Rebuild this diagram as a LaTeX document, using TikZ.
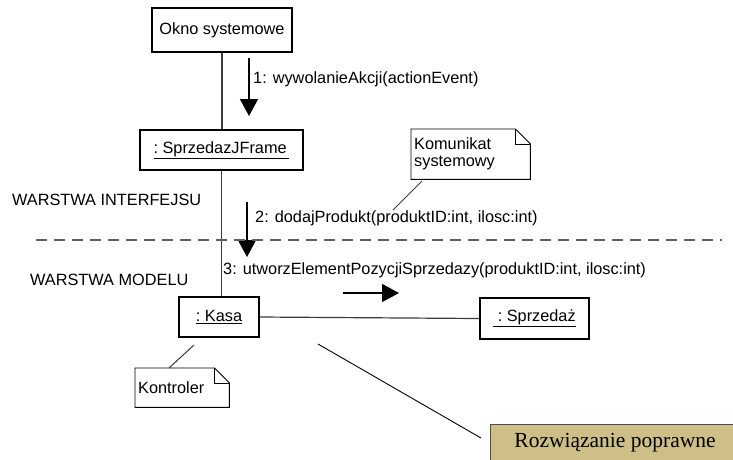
\documentclass[tikz,border=0pt]{standalone}
\usepackage{fontspec}
\setmainfont{Liberation Sans}
\newfontfamily\serifrm{Liberation Serif}
\usetikzlibrary{arrows.meta,calc}

\definecolor{linegray}{RGB}{60,60,60}
\definecolor{dashgray}{RGB}{95,95,95}
\definecolor{tanfill}{RGB}{206,190,136}

% UML note outline with a folded corner
\newcommand\umlnote[1]{%
  \draw[notepen] (#1.north west) -- ($(#1.north east)+(-15,0)$) -- ($(#1.north east)+(0,15)$)
     -- (#1.south east) -- (#1.south west) -- cycle;
  \draw[notepen] ($(#1.north east)+(-15,0)$) |- ($(#1.north east)+(0,15)$);}

\begin{document}
\begin{tikzpicture}[x=1pt,y=-1pt,
  txt/.style={font=\fontsize{16.3}{19}\selectfont, inner sep=0pt},
  objbox/.style={draw, line width=2pt, inner sep=0pt, font=\fontsize{16.3}{19}\selectfont},
  notetext/.style={inner sep=3pt, align=left, font=\fontsize{16.3}{19}\selectfont},
  notepen/.style={line width=0.9pt, draw=black},
  link/.style={draw=linegray, line width=1.2pt},
  msg/.style={line width=1.4pt, -{Triangle[width=18pt,length=17pt]}},
  layer/.style={draw=dashgray, line width=1.7pt, dash pattern=on 11pt off 7pt},
  verdict/.style={draw=black!70, line width=0.8pt, fill=tanfill, inner sep=0pt,
    font=\serifrm\fontsize{21.5}{24}\selectfont}]
\useasboundingbox (0,0) rectangle (733,459);
\fill[white] (0,0) rectangle (733,459);

% objects
\node[objbox, minimum width=140pt, minimum height=44pt] (okno) at (222,30) {Okno systemowe};
\node[objbox, minimum width=163pt, minimum height=40pt] (jframe) at (221.5,150) {\underline{:\ SprzedazJFrame\,}};
\node[objbox, minimum width=80pt, minimum height=40pt] (kasa) at (219,317) {\underline{:\ Kasa}};
\node[objbox, minimum width=109pt, minimum height=41pt] (sprz) at (534.5,318.5) {\underline{\ :\ Sprzedaż}};

% links between objects
\draw[link] (okno.south) -- (okno.south |- jframe.north);
\draw[link] (jframe.south) -- (jframe.south |- kasa.north);
\draw[link] (kasa.east) -- (sprz.west);

% notes
\node[notetext, minimum width=119pt, minimum height=50pt, anchor=north west, text width=113pt] (komnote) at (411,129) {Komunikat\\[-2pt]systemowy};
\umlnote{komnote}
\node[notetext, minimum width=94pt, minimum height=39pt, anchor=north west, text width=88pt] (kontnote) at (135,368) {Kontroler};
\umlnote{kontnote}

\coordinate (komA) at (422,181);
\coordinate (komB) at (393,210);
\draw[link, line width=1pt] (komA) -- (komB);
\coordinate (kontA) at (194,345);
\coordinate (kontB) at (169,368);
\draw[link, line width=1pt] (kontA) -- (kontB);

% messages
\coordinate (m1a) at (249,58);  \coordinate (m1b) at (249,116);
\draw[msg] (m1a) -- (m1b);
\node[txt, anchor=west] (m1) at (253,79) {1: wywolanieAkcji(actionEvent)};

\coordinate (m2a) at (247,202); \coordinate (m2b) at (247,257);
\draw[msg] (m2a) -- (m2b);
\node[txt, anchor=west] (m2) at (255,218) {2: dodajProdukt(produktID:int, ilosc:int)};

\coordinate (m3a) at (343,293); \coordinate (m3b) at (399,293);
\draw[msg] (m3a) -- (m3b);
\node[txt, anchor=west] (m3) at (223,270) {3: utworzElementPozycjiSprzedazy(produktID:int, ilosc:int)};

% layers
\coordinate (layL) at (36,240); \coordinate (layR) at (722,240);
\draw[layer] (layL) -- (layR);
\node[txt, anchor=west] (wint) at (12,200) {WARSTWA INTERFEJSU};
\node[txt, anchor=west] (wmod) at (30,280) {WARSTWA MODELU};

% verdict
\node[verdict, minimum width=246pt, minimum height=42pt, anchor=north west] (ok) at (490,424) {};
\node[font=\serifrm\fontsize{21.5}{24}\selectfont, inner sep=0pt] (oktext) at (615,443) {Rozwiązanie poprawne};
\coordinate (okA) at (318,344);
\coordinate (okB) at (481,438);
\draw[black, line width=0.9pt] (okA) -- (okB);
\end{tikzpicture}
\end{document}
